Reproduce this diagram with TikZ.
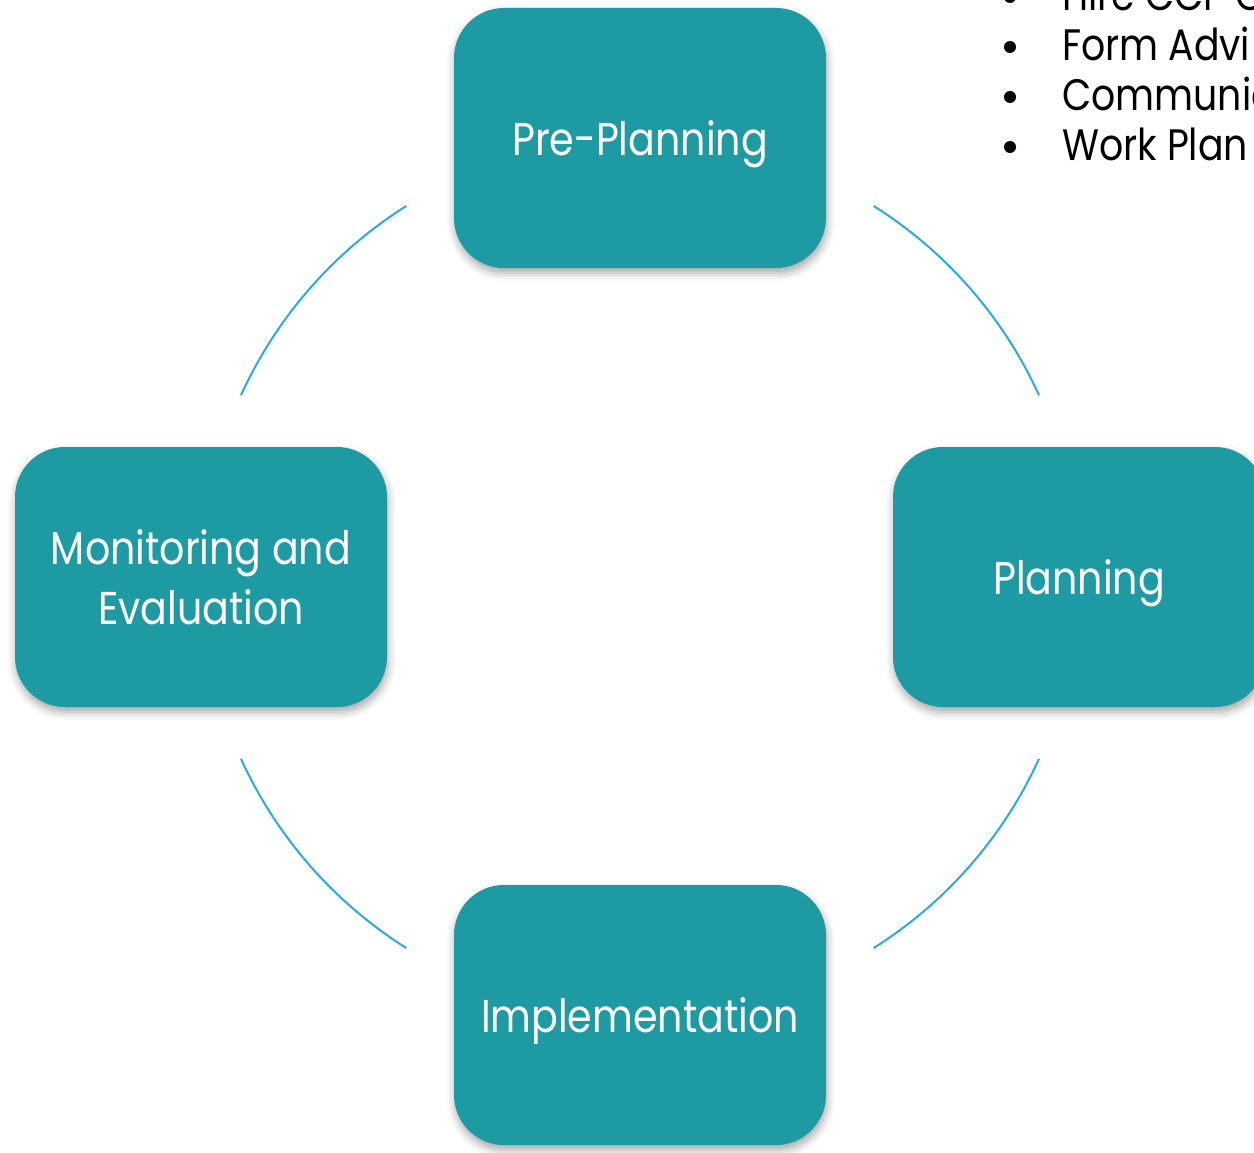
\documentclass[tikz,border=0pt]{standalone}
\usepackage{fontspec}
\newfontfamily\stagefont[FakeStretch=0.86]{Poppins}
\usetikzlibrary{shadows.blur}
\definecolor{stageteal}{HTML}{1E9AA2}
\definecolor{ringblue}{HTML}{29AAE1}
\tikzset{
  stage/.style={rounded corners=50pt, fill=stageteal, text=white,
    minimum width=372pt, minimum height=260pt, inner sep=0pt, align=center,
    font=\stagefont\fontsize{46}{60}\selectfont,
    blur shadow={shadow xshift=1pt, shadow yshift=-5pt,
      shadow blur radius=8pt, shadow opacity=35}},
  oneline/.style={text depth=0pt},
  ring/.style={ringblue, line width=2pt},
  tasktext/.style={anchor=base west, inner sep=0pt,
    font=\stagefont\fontsize{44}{50}\selectfont},
  taskdot/.style={circle, fill=black, minimum size=12pt, inner sep=0pt},
}
\begin{document}
\begin{tikzpicture}[x=1pt, y=1pt]
    \useasboundingbox (0,0) rectangle (1254,-1153);
    \clip (0,0) rectangle (1254,-1153);

    % circle behind the four stages
    \coordinate (c) at (640,-577);
    \foreach \a in {24.5,122.2,204.5,302.2}
        \draw[ring] ([shift={(\a:438.5pt)}]c) arc[start angle=\a, delta angle=33.3, radius=438.5pt];

    \node[stage, oneline] (pre)  at (640,-138)  {Pre-Planning};
    \node[stage, oneline] (plan) at (1079,-577) {Planning};
    \node[stage, oneline] (impl) at (640,-1015) {Implementation};
    \node[stage] (mon)  at (201,-577)  {Monitoring and\\Evaluation};

    % task list, cut off at the page edge
    \foreach \k/\task in {0/Hire CCP C, 1/Form Advi, 2/Communic, 3/Work Plan} {
        \node[taskdot] (dot\k) at (1010,3-50*\k) {};
        \node[tasktext] (task\k) at (1062,-11-50*\k) {\task};
    }
\end{tikzpicture}
\end{document}
